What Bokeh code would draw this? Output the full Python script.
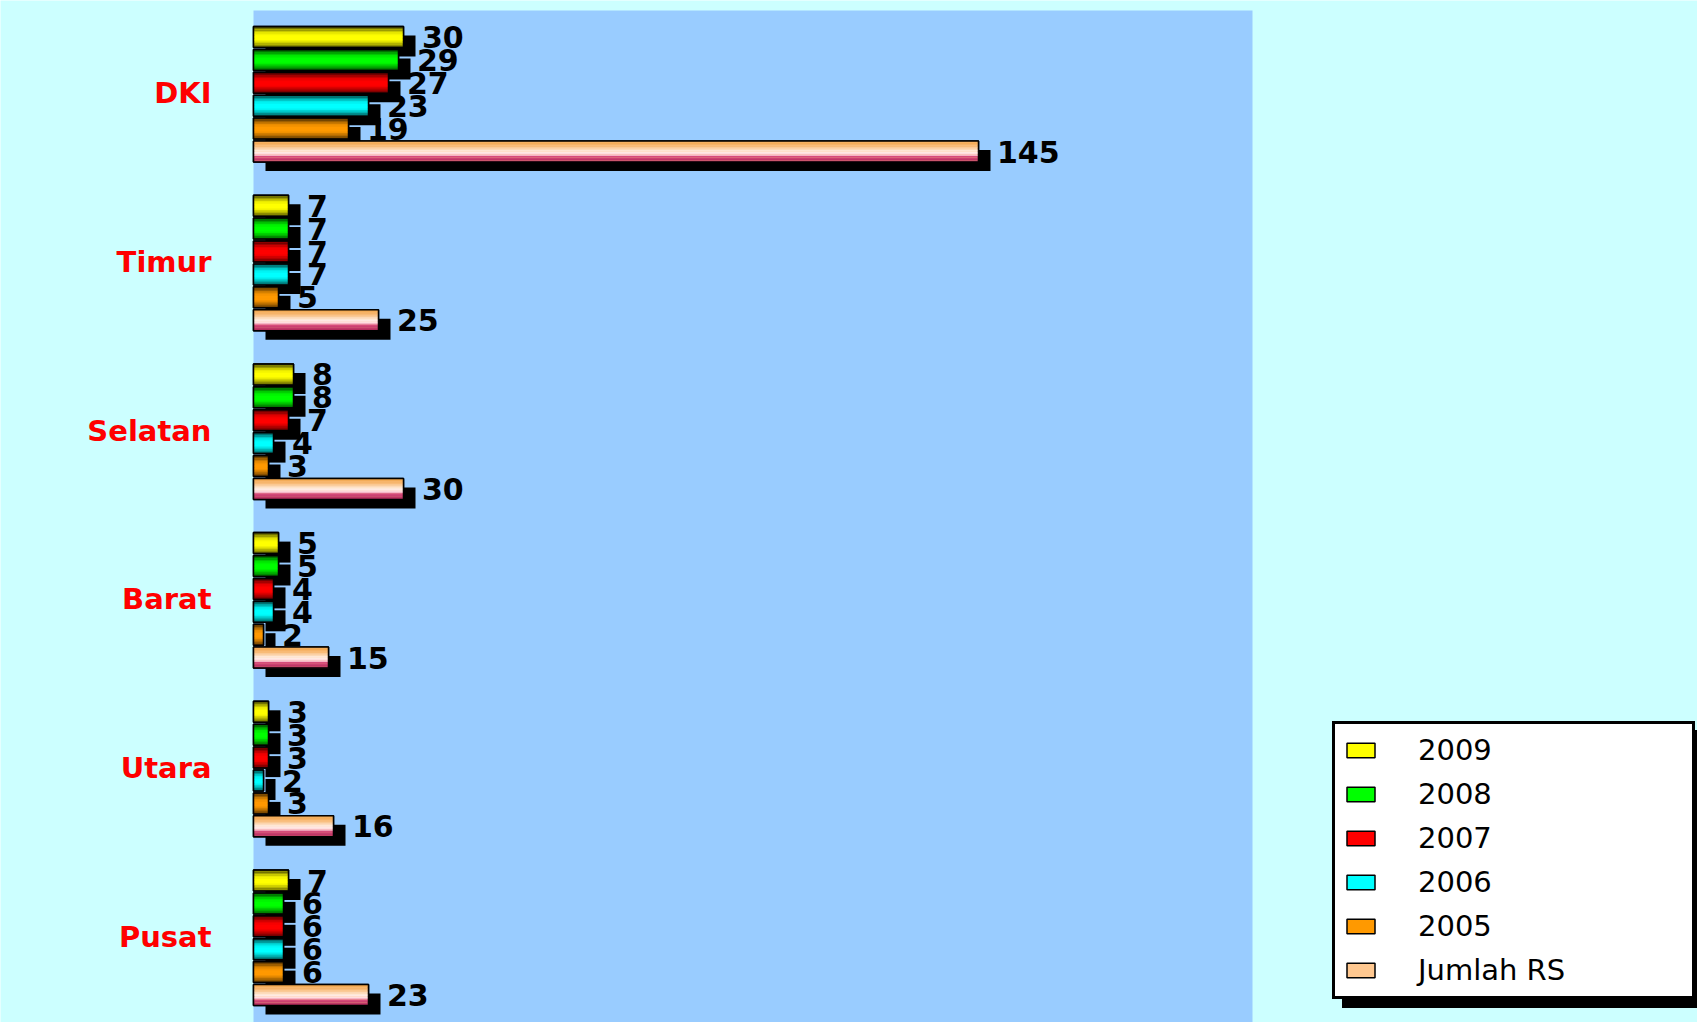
import numpy as np
from bokeh.plotting import figure
from bokeh.models import ColumnDataSource, Range1d, BoxAnnotation, Legend, LegendItem
from bokeh.transform import dodge
from bokeh.core.properties import value
from bokeh.embed import file_html
from bokeh.resources import INLINE

# ---------------- data ----------------
categories = ["DKI", "Timur", "Selatan", "Barat", "Utara", "Pusat"]
series_names = ["2009", "2008", "2007", "2006", "2005", "Jumlah RS"]
v2009 = [30, 7, 8, 5, 3, 7]
v2008 = [29, 7, 8, 5, 3, 6]
v2007 = [27, 7, 7, 4, 3, 6]
v2006 = [23, 7, 4, 4, 2, 6]
v2005 = [19, 5, 3, 2, 3, 6]
jumlah_rs = [145, 25, 30, 15, 16, 23]
series_values = [v2009, v2008, v2007, v2006, v2005, jumlah_rs]

# ---------------- styles ----------------
base_colors = ["#ffff00", "#00ff00", "#ff0000", "#00ffff", "#ff9900", "#ffc890"]
BG = "#ccffff"
PLOT_BG = "#99ccff"
PX_X = 5.0          # pixels per value unit
GROUP_PX = 168.7    # pixels per category group
W, H = 1697, 1022
LEFT_PX, TOP_PX, RIGHT_PX = 253, 10, 1252

bar_h = 21 / GROUP_PX
step = 22.9 / GROUP_PX
first = 26.5 / GROUP_PX
N_STRIPES = 14


def hex2rgb(h):
    h = h.lstrip("#")
    return np.array([int(h[i:i + 2], 16) for i in (0, 2, 4)], dtype=float)


def rgb2hex(c):
    c = np.clip(np.round(c), 0, 255).astype(int)
    return "#%02x%02x%02x" % tuple(c)


def interp_stops(stops, t):
    ts = [s[0] for s in stops]
    for k in range(len(stops) - 1):
        if ts[k] <= t <= ts[k + 1]:
            a = (t - ts[k]) / (ts[k + 1] - ts[k])
            return rgb2hex(hex2rgb(stops[k][1]) * (1 - a) + hex2rgb(stops[k + 1][1]) * a)
    return stops[-1][1]


def solid_grad(col, t):
    shade = [(0.0, 0.2), (0.3, 0.9), (0.45, 1.0), (0.65, 1.0), (0.85, 0.65), (1.0, 0.3)]
    for k in range(len(shade) - 1):
        if shade[k][0] <= t <= shade[k + 1][0]:
            a = (t - shade[k][0]) / (shade[k + 1][0] - shade[k][0])
            f = shade[k][1] * (1 - a) + shade[k + 1][1] * a
            return rgb2hex(hex2rgb(col) * f)
    return col


jumlah_stops = [(0.0, "#f0a040"), (0.25, "#f8bb78"), (0.5, "#fff0e6"),
                (0.66, "#ffd6dc"), (0.74, "#d84c7c"), (1.0, "#b02858")]


def grad_color(i, t):
    if i == 5:
        return interp_stops(jumlah_stops, t)
    return solid_grad(base_colors[i], t)


# ---------------- figure ----------------
x_start = -LEFT_PX / PX_X
x_end = (W - LEFT_PX) / PX_X
y_end = -TOP_PX / GROUP_PX
y_start = (H - TOP_PX) / GROUP_PX

p = figure(width=W, height=H, x_range=Range1d(x_start, x_end),
           y_range=Range1d(y_start, y_end), output_backend="svg",
           toolbar_location=None, x_axis_type=None, y_axis_type=None,
           min_border=0)
p.background_fill_color = BG
p.border_fill_color = BG
p.outline_line_color = None

p.add_layout(BoxAnnotation(left=0, right=(RIGHT_PX - LEFT_PX) / PX_X, top=0,
                           fill_color=PLOT_BG, fill_alpha=1.0, line_color=None,
                           level="underlay"))

idx = np.arange(len(categories))
shadow_dx = 12 / PX_X
shadow_dy = 9 / GROUP_PX

legend_renderers = []
label_sources = []
for i, (name, vals) in enumerate(zip(series_names, series_values)):
    src = ColumnDataSource(dict(y=idx + first + i * step, v=vals,
                                lbl=[str(v) for v in vals], cat=categories))
    label_sources.append(src)
    # shadow
    p.hbar(y=dodge("y", shadow_dy), left=shadow_dx, right=dodge("v", shadow_dx),
           height=bar_h, fill_color="black", line_color=None, source=src)
    # base bar (legend swatch)
    r = p.hbar(y="y", left=0, right="v", height=bar_h, fill_color=base_colors[i],
               line_color="black", line_width=1.5, source=src)
    legend_renderers.append(r)
    # gradient stripes
    for j in range(N_STRIPES):
        t = (j + 0.5) / N_STRIPES
        off = -bar_h / 2 + (j + 0.5) * bar_h / N_STRIPES
        p.hbar(y=dodge("y", off), left=0, right="v", height=bar_h / N_STRIPES * 1.15,
               fill_color=grad_color(i, t), line_color=None, source=src)
    # outline
    p.hbar(y="y", left=0, right="v", height=bar_h, fill_color=None,
           line_color="black", line_width=1.5, source=src)

# value labels
for src in label_sources:
    p.text(x=dodge("v", 3.7), y="y", text="lbl", source=src,
           text_font=value("DejaVu Sans"), text_font_style="bold",
           text_font_size="30px", text_color="black",
           text_align="left", text_baseline="middle")

# category labels
cat_src = ColumnDataSource(dict(y=idx + 0.49, cat=categories))
p.text(x=-8.4, y="y", text="cat", source=cat_src,
       text_font=value("DejaVu Sans"), text_font_style="bold",
       text_font_size="29px", text_color="#ff0000",
       text_align="right", text_baseline="middle")

# legend with shadow
legend_kw = dict(padding=8, spacing=8, label_height=36, glyph_height=18,
                 glyph_width=35, label_standoff=40, label_width=266,
                 label_text_font="DejaVu Sans",
                 label_text_font_size="29px", border_line_width=3,
                 border_line_alpha=1.0,
                 background_fill_alpha=1.0, orientation="vertical")

dummy = [p.hbar(y=[], right=[], height=1, fill_color="black", line_color="black")
         for _ in series_names]
shadow_legend = Legend(items=[LegendItem(label=" ", renderers=[d]) for d in dummy],
                       location=(1342, 14), background_fill_color="black",
                       border_line_color="black", label_text_color="black", **legend_kw)
main_legend = Legend(items=[LegendItem(label=n, renderers=[r]) for n, r in zip(series_names, legend_renderers)],
                     location=(1332, 23), background_fill_color="white",
                     border_line_color="black", label_text_color="black", **legend_kw)
p.add_layout(shadow_legend, "center")
p.add_layout(main_legend, "center")

open("out.html", "w").write(file_html(p, INLINE))
